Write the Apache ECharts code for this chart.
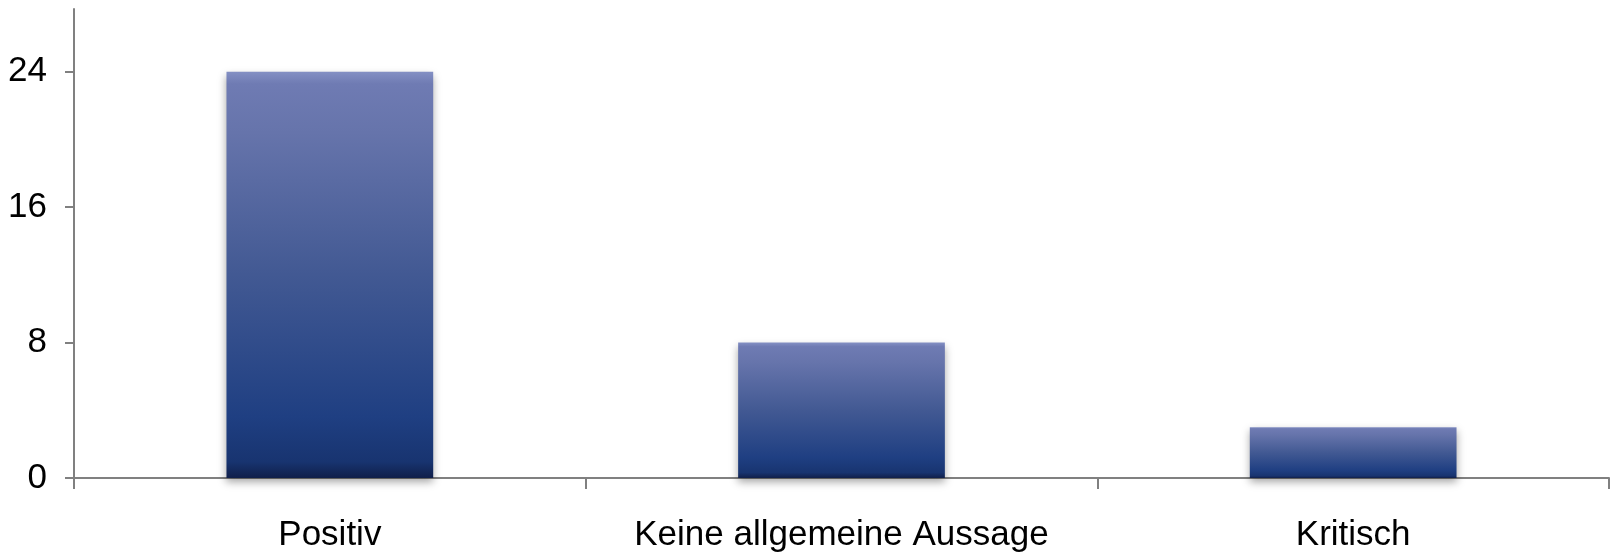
<!DOCTYPE html>
<html>
<head>
<meta charset="utf-8">
<script src="https://cdn.jsdelivr.net/npm/echarts@6/dist/echarts.min.js"></script>
<style>
html,body{margin:0;padding:0;background:#fff;}
#chart{width:1614px;height:553px;}
</style>
</head>
<body>
<div id="chart"></div>
<script>
const categories = ["Positiv", "Keine allgemeine Aussage", "Kritisch"];
const values = [24, 8, 3];
const yTicks = [0, 8, 16, 24];

const FONT = '"Liberation Sans Narrow", "Arial Narrow", "Liberation Sans", Arial, sans-serif';
const chart = echarts.init(document.getElementById('chart'), null, {renderer: 'canvas'});
chart.setOption({
  animation: false,
  backgroundColor: '#ffffff',
  grid: {left: 74, right: 5, top: 9, bottom: 75, containLabel: false},
  xAxis: {
    type: 'category',
    data: categories,
    boundaryGap: true,
    axisLine: {show: true, lineStyle: {color: '#808080', width: 2}},
    axisTick: {show: true, length: 11, lineStyle: {color: '#808080', width: 2}},
    axisLabel: {color: '#000', fontFamily: FONT, fontSize: 35, margin: 40, interval: 0}
  },
  yAxis: {
    type: 'value',
    min: 0,
    max: 27.7,
    interval: 8,
    splitLine: {show: false},
    axisLine: {show: true, lineStyle: {color: '#808080', width: 2}},
    axisTick: {show: true, length: 9, lineStyle: {color: '#808080', width: 2}},
    axisLabel: {
      color: '#000', fontFamily: FONT, fontSize: 35, margin: 27,
      showMaxLabel: false,
      formatter: function (v) { return yTicks.indexOf(v) >= 0 ? String(v) : ''; }
    }
  },
  series: [{
    type: 'bar',
    data: values,
    barWidth: '40.4%',
    z: 1,
    itemStyle: {
      color: new echarts.graphic.LinearGradient(0, 0, 0, 1, [
        {offset: 0, color: '#8490c4'},
        {offset: 0.03, color: '#6f7bb3'},
        {offset: 0.15, color: '#6674ab'},
        {offset: 0.5, color: '#425993'},
        {offset: 0.85, color: '#1f3f82'},
        {offset: 0.96, color: '#183470'},
        {offset: 1, color: '#101f4a'}
      ]),
      shadowColor: 'rgba(0,0,0,0.35)',
      shadowBlur: 8,
      shadowOffsetY: 4
    }
  }]
});
</script>
</body>
</html>
